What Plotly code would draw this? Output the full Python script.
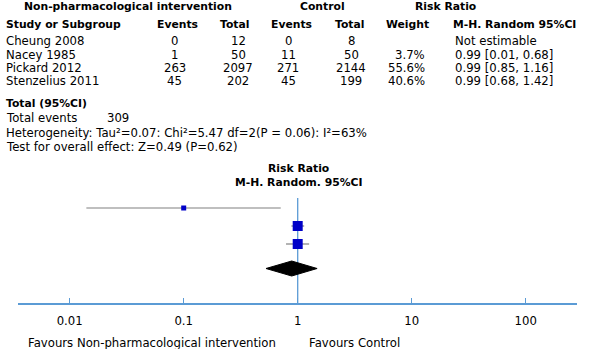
import plotly.graph_objects as go

# ---------------- data ----------------
studies = ["Cheung 2008", "Nacey 1985", "Pickard 2012", "Stenzelius 2011"]
int_events = [0, 1, 263, 45]
int_total = [12, 50, 2097, 202]
ctl_events = [0, 11, 271, 45]
ctl_total = [8, 50, 2144, 199]
weights = ["", "3.7%", "55.6%", "40.6%"]
ci_text = ["Not estimable", "0.99 [0.01, 0.68]", "0.99 [0.85, 1.16]", "0.99 [0.68, 1.42]"]

# plotted estimates; None = not estimable
rr = [None, 0.1, 1.0, 1.0]
rr_lo = [None, 0.014, 0.88, 0.79]
rr_hi = [None, 0.71, 1.14, 1.26]
pooled_rr = 0.886
pooled_lo = 0.527
pooled_hi = 1.48

total_events = 309
heterogeneity = "Heterogeneity: Tau²=0.07: Chi²=5.47 df=2(P = 0.06): I²=63%"
overall = "Test for overall effect: Z=0.49 (P=0.62)"
tick_vals = [0.01, 0.1, 1, 10, 100]
tick_text = ["0.01", "0.1", "1", "10", "100"]

# ---------------- layout / style ----------------
W, H = 589, 349
FONT = "DejaVu Sans"
FS = 11.7
FSB = 10.8
AXIS_Y = 303
X_LEFT, X_RIGHT = 18, 577
PX_ONE, PX_DECADE = 297.7, 114.0
ROW0_TABLE, ROW_STEP_TABLE = 41, 13.5
ROW0_PLOT, ROW_STEP_PLOT = 190, 18
DIAMOND_Y, DIAMOND_H = 268.5, 7.5
sq_sizes = [0, 5, 10, 10]
BLUE = "#0000c8"
GREY = "#808080"
LINE_BLUE = "#5b9bd5"

x_lo = (X_LEFT - PX_ONE) / PX_DECADE
x_hi = (X_RIGHT - PX_ONE) / PX_DECADE

fig = go.Figure()

# CI lines
for i, s in enumerate(studies):
    if rr[i] is None:
        continue
    y = ROW0_PLOT + i * ROW_STEP_PLOT
    fig.add_trace(go.Scatter(x=[rr_lo[i], rr_hi[i]], y=[y, y], mode="lines",
                             line=dict(color=GREY, width=1.2), hoverinfo="skip", showlegend=False))

# vertical line of no effect
fig.add_trace(go.Scatter(x=[1, 1], y=[198, AXIS_Y], mode="lines",
                         line=dict(color=LINE_BLUE, width=1.3), hoverinfo="skip", showlegend=False))

# squares
for i, s in enumerate(studies):
    if rr[i] is None:
        continue
    y = ROW0_PLOT + i * ROW_STEP_PLOT
    fig.add_trace(go.Scatter(x=[rr[i]], y=[y], mode="markers",
                             marker=dict(symbol="square", size=sq_sizes[i], color=BLUE,
                                         line=dict(width=0)),
                             hoverinfo="skip", showlegend=False))

# diamond
fig.add_trace(go.Scatter(x=[pooled_lo, pooled_rr, pooled_hi, pooled_rr, pooled_lo],
                         y=[DIAMOND_Y, DIAMOND_Y - DIAMOND_H, DIAMOND_Y, DIAMOND_Y + DIAMOND_H, DIAMOND_Y],
                         mode="lines", fill="toself", fillcolor="black",
                         line=dict(color="black", width=1), hoverinfo="skip", showlegend=False))


def px(x):
    return x / W


def py(y):
    return 1 - y / H


ann = []


def text(x, y, t, anchor="left", bold=False):
    size = FS
    if bold:
        t = "<b>" + t + "</b>"
        size = FSB
    ann.append(dict(x=px(x), y=py(y), xref="paper", yref="paper", text=t, showarrow=False,
                    xanchor=anchor, yanchor="middle", font=dict(family=FONT, size=size, color="black")))


# headers
text(128, 7, "Non-pharmacological intervention", "center", True)
text(322, 7, "Control", "center", True)
text(445, 7, "Risk Ratio", "center", True)
text(4, 25, "Study or Subgroup", "left", True)
text(177, 25, "Events", "center", True)
text(235, 25, "Total", "center", True)
text(291, 25, "Events", "center", True)
text(350, 25, "Total", "center", True)
text(407, 25, "Weight", "center", True)
text(451, 25, "M-H. Random 95%CI", "left", True)

for i, s in enumerate(studies):
    y = ROW0_TABLE + i * ROW_STEP_TABLE
    text(4, y, s)
    text(175, y, str(int_events[i]), "center")
    text(238, y, str(int_total[i]), "center")
    text(288, y, str(ctl_events[i]), "center")
    text(351, y, str(ctl_total[i]), "center")
    if weights[i]:
        text(427, y, weights[i], "right")
    text(453, y, ci_text[i])

text(4, 103, "Total (95%CI)", "left", True)
text(4, 118, "Total events")
text(105, 118, str(total_events))
text(4, 133, heterogeneity)
text(4, 147, overall)

text(298, 169, "Risk Ratio", "center", True)
text(298, 183, "M-H. Random. 95%CI", "center", True)

text(278, 343, "Favours Non-pharmacological intervention", "right")
text(307, 343, "Favours Control", "left")

fig.update_layout(
    width=W, height=H, margin=dict(l=0, r=0, t=0, b=0),
    paper_bgcolor="white", plot_bgcolor="white",
    annotations=ann,
    xaxis=dict(type="log", range=[x_lo, x_hi], domain=[X_LEFT / W, X_RIGHT / W],
               tickvals=tick_vals, ticktext=tick_text, ticks="inside", ticklen=5,
               tickcolor=LINE_BLUE, tickwidth=1.3, showline=True, linecolor=LINE_BLUE, linewidth=1.5,
               showgrid=False, zeroline=False, ticklabelstandoff=6,
               tickfont=dict(family=FONT, size=FS, color="black"), fixedrange=True),
    yaxis=dict(range=[AXIS_Y, 0], domain=[(H - AXIS_Y) / H, 1], visible=False, fixedrange=True),
)

fig.write_html("out.html", config={"displayModeBar": False},
               post_script="document.body.style.margin='0';document.body.style.overflow='hidden';")
